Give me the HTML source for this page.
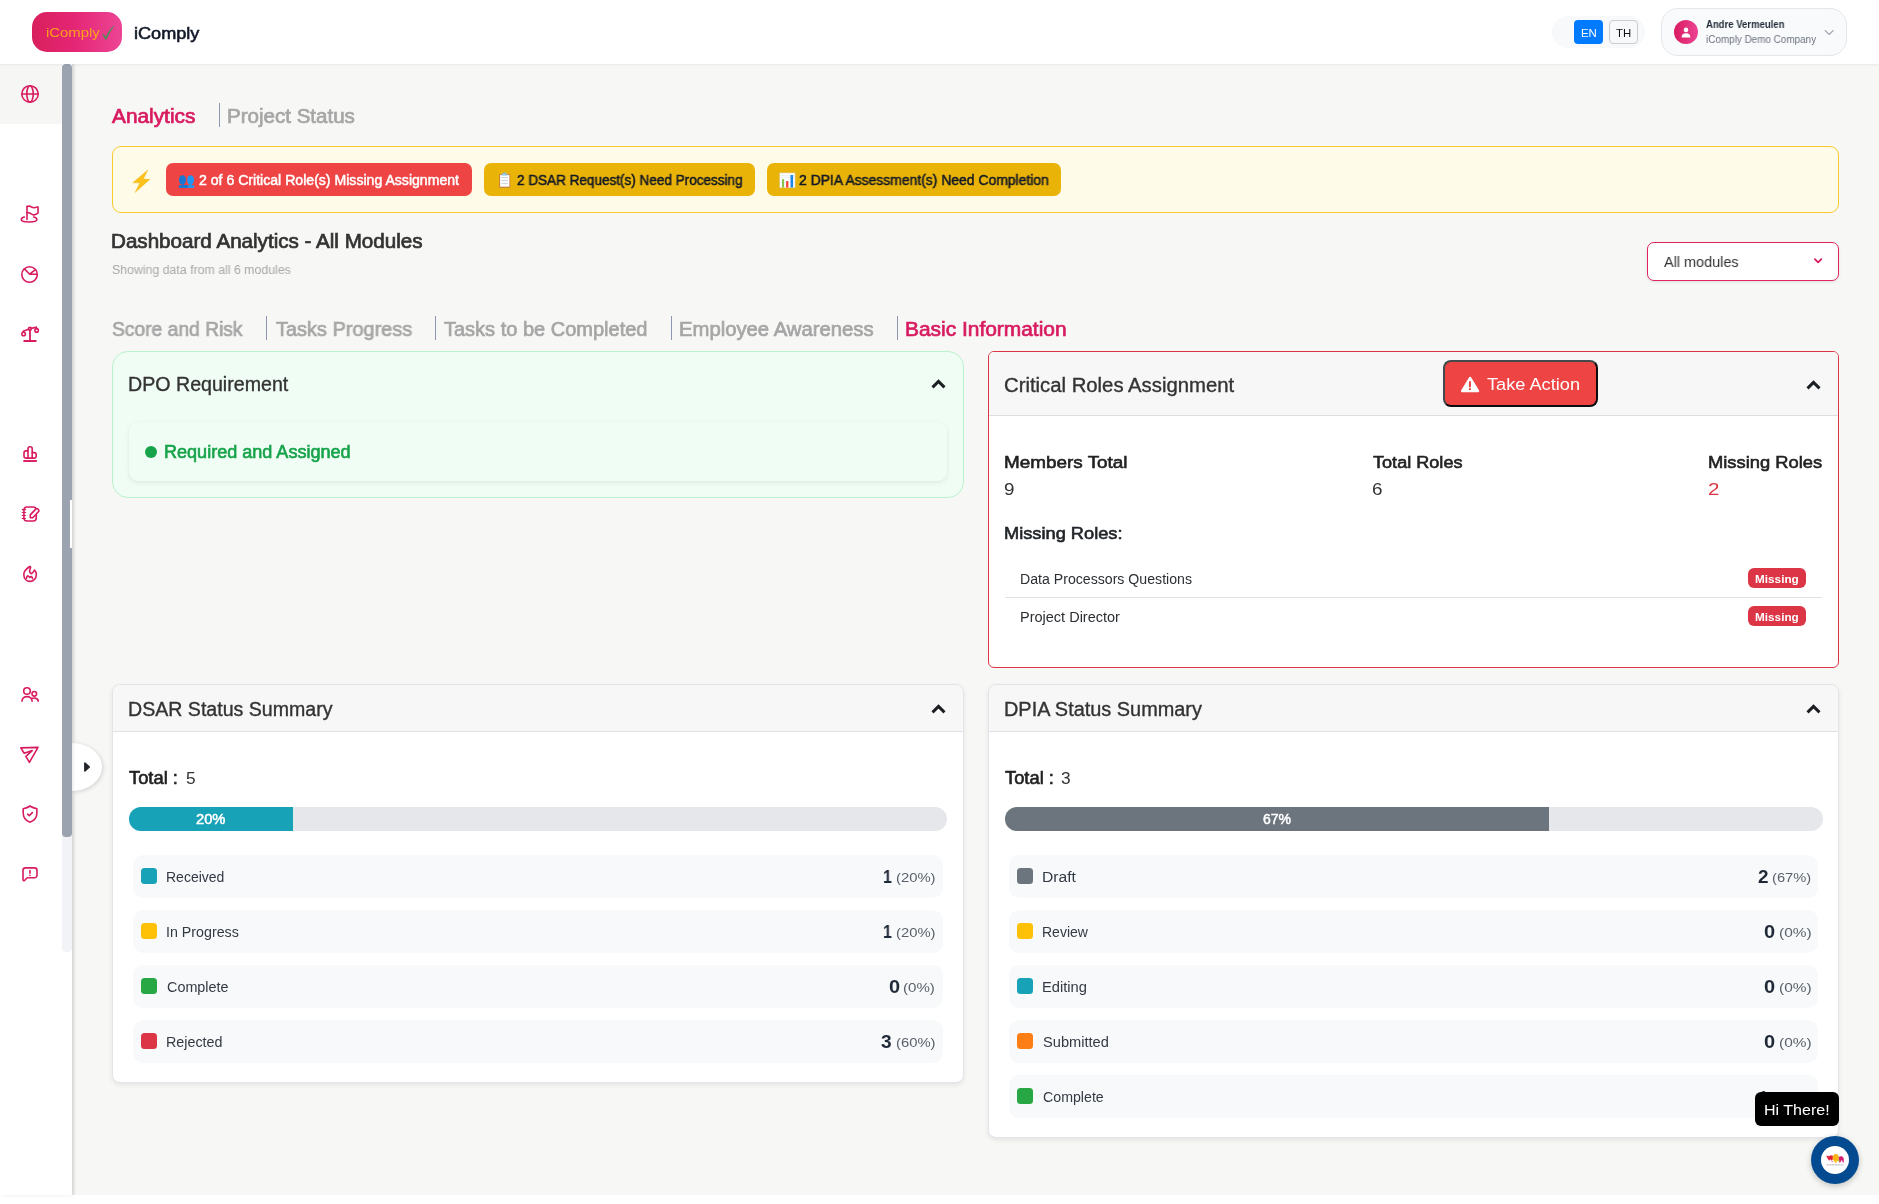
<!DOCTYPE html>
<html lang="en">
<head>
<meta charset="utf-8">
<title>iComply - Dashboard Analytics</title>
<style>
*{box-sizing:border-box;margin:0;padding:0}
html,body{width:1879px;height:1204px;overflow:hidden;background:#fff;font-family:"Liberation Sans",sans-serif;}
body{position:relative}
div,span,svg,header,aside,main,section,button,nav,a{position:absolute;display:block}
.t{white-space:pre;line-height:1;transform-origin:0 0;will-change:transform;}
header{left:0;top:0;width:1879px;height:64px;background:#fff;z-index:5;box-shadow:0 1px 2px rgba(0,0,0,.06)}
aside{left:0;top:64px;width:72px;height:1131px;background:#fff;z-index:4;box-shadow:1px 0 3px rgba(0,0,0,.10)}
main{left:72px;top:64px;width:1807px;height:1131px;background:#f7f7f5;z-index:1}
button{border:0;background:none;font-family:inherit}

</style>
</head>
<body>
<header>
<div class="logo" style="left:32px;top:12px;width:90px;height:40px;border-radius:15px;background:linear-gradient(90deg,#d9205c 0%,#e42574 45%,#ec4594 100%);"></div>
<span class="t" style="left:46.11px;top:26px;font-size:13px;color:#ffa31a;transform:scaleX(1.1438);">iComply</span>
<svg style="left:101px;top:24px;" width="15" height="17" viewBox="0 0 15 17"><path d="M1.4 10.4 C2.6 10.2 3.9 11.4 4.7 14.3 C6.3 9.6 9.4 4.8 13.1 2 C10 5.600 7.200 10.200 5.300 15 L4.100 15 C3.500 12.600 2.700 11.200 1.400 10.400 Z" fill="#25a04a" stroke="#25a04a" stroke-width=".5" stroke-linejoin="round"/></svg>
<span class="t" style="left:134.11px;top:26px;font-size:16px;color:#111827;transform:scaleX(1.1318);-webkit-text-stroke:0.56px #111827;">iComply</span>
<div style="left:1552px;top:16px;width:93px;height:32px;border-radius:16px;background:#f8f9fa;"></div>
<button style="left:1574px;top:20px;width:29px;height:24px;border-radius:4px;background:#007bff;"></button>
<span class="t" style="left:1580.56px;top:28px;font-size:11.3px;color:#fff;transform:scaleX(1.0105);">EN</span>
<button style="left:1609px;top:20px;width:29px;height:24px;border-radius:4px;background:#f8f9fa;border:1px solid #c9cdd2;"></button>
<span class="t" style="left:1616.44px;top:28px;font-size:11.3px;color:#111;transform:scaleX(1.0081);">TH</span>
<div style="left:1661px;top:8px;width:186px;height:48px;border-radius:17px;background:#f9fafb;border:1px solid #e3e6ea;"></div>
<div style="left:1674px;top:20px;width:24px;height:24px;border-radius:50%;background:linear-gradient(90deg,#d81b60,#ec4594);"></div>
<svg style="left:1681px;top:26.5px;" width="10" height="11" viewBox="0 0 10 11"><circle cx="5" cy="2.900" r="2.300" fill="#fff"/><path d="M.6 10.400 C.6 7.300 2.300 6.200 5 6.200 C7.700 6.200 9.400 7.300 9.400 10.400 Z" fill="#fff"/></svg>
<span class="t" style="left:1706.06px;top:20px;font-size:10px;color:#1f2937;font-weight:700;transform:scaleX(0.9534);">Andre Vermeulen</span>
<span class="t" style="left:1705.64px;top:35px;font-size:10px;color:#6b7280;transform:scaleX(0.9903);">iComply Demo Company</span>
<svg style="left:1823px;top:28px;" width="12" height="9" viewBox="0 0 12 9"><path d="M2.200 2.600 L6.200 6.400 L10.200 2.600" fill="none" stroke="#9ca3af" stroke-width="1.300" stroke-linecap="round" stroke-linejoin="round"/></svg>
</header>
<aside>
<div style="left:0px;top:0px;width:62px;height:60px;background:#f6f6f4;"></div>
<div style="left:62px;top:0px;width:10px;height:888px;background:#f1f3f6;border-radius:4px;"></div>
<div style="left:62px;top:0px;width:10px;height:773px;background:#9ba2b0;border-radius:4px;"></div>
<div style="left:70px;top:436px;width:2px;height:48px;background:#fff;"></div>
<svg style="left:14px;top:14px" width="32" height="32" viewBox="14 78 32 32"><g fill="none" stroke="#d81b60" stroke-width="1.600" stroke-linecap="round" stroke-linejoin="round"><circle cx="30" cy="93.950" r="8.200"/><ellipse cx="30" cy="93.950" rx="3.200" ry="8.200"/><path d="M21.800 93.950H38.200"/></g></svg>
<svg style="left:14px;top:134px" width="32" height="32" viewBox="14 198 32 32"><g fill="none" stroke="#d81b60" stroke-width="1.600" stroke-linecap="round" stroke-linejoin="round"><path d="M27 206.500V219.500"/><path d="M27 206.500C28.500 205.900 30 205.900 31.300 206.800C32.800 207.900 35 207.900 37.100 206.900C37.600 206.700 38.050 207 38.050 207.500V212.500C38.050 213.100 37.700 213.500 37.100 213.700C35.500 214.900 33.500 215.300 31.600 214.100C30.300 213.100 28.500 212.500 27 212.700"/><path d="M24.400 217.100C22.400 217.700 21.300 218.500 21.300 219.500C21.300 221.100 24.700 222 29 222C33.300 222 36.900 221 36.900 219.500C36.900 218.500 35.700 217.700 33.700 217.100"/></g></svg>
<svg style="left:14px;top:194px" width="32" height="32" viewBox="14 258 32 32"><g fill="none" stroke="#d81b60" stroke-width="1.600" stroke-linecap="round" stroke-linejoin="round"><circle cx="29.550" cy="274.500" r="7.750"/><path d="M24.400 268.900L29.700 274.200L35.400 269.600M29.700 274.200H37"/></g></svg>
<svg style="left:14px;top:254px" width="32" height="32" viewBox="14 318 32 32"><g fill="none" stroke="#d81b60" stroke-width="1.600" stroke-linecap="round" stroke-linejoin="round"><path d="M30 330.200V341M24.200 341H35.800" stroke-width="1.800"/><circle cx="29.950" cy="328.800" r="1.400"/><path d="M23.300 331.300L28.600 329.300M31.300 328.400L36.300 327.300"/><circle cx="23.600" cy="334" r="1.750"/><circle cx="36.600" cy="330.400" r="1.750"/><path d="M23.300 331.300L23.600 332.300M36.300 327.300L36.600 328.700"/></g></svg>
<svg style="left:14px;top:374px" width="32" height="32" viewBox="14 438 32 32"><g fill="none" stroke="#d81b60" stroke-width="1.600" stroke-linecap="round" stroke-linejoin="round"><path d="M28 458.100V448.800a2 2 0 0 1 2-2h.2a2 2 0 0 1 2 2V458.100"/><path d="M28 450.900H26a2 2 0 0 0-2 2V456.100a2 2 0 0 0 2 2H34.200a2 2 0 0 0 2-2V454.600a2 2 0 0 0-2-2H32.200"/><path d="M23.300 461H36.900" stroke-width="1.900" stroke-linecap="butt"/></g></svg>
<svg style="left:14px;top:434px" width="32" height="32" viewBox="14 498 32 32"><g fill="none" stroke="#d81b60" stroke-width="1.600" stroke-linecap="round" stroke-linejoin="round"><rect x="23.950" y="506.950" width="12.300" height="14.100" rx="3"/><path d="M22.200 509.600H25.600M22.200 512.500H25.600M22.200 515.500H25.600M22.200 518.500H25.600" stroke-width="1.100"/><path d="M30.300 514.900L36 508.900a1.200 1.200 0 0 1 1.700 0l.9.900a1.200 1.200 0 0 1 0 1.700L32.800 517.700H30.300Z" fill="#fff"/></g></svg>
<svg style="left:14px;top:494px" width="32" height="32" viewBox="14 558 32 32"><g fill="none" stroke="#d81b60" stroke-width="1.600" stroke-linecap="round" stroke-linejoin="round"><path d="M29.700 566.500C26 569 23.600 571.500 23.800 574.500C23.900 578.500 26.500 581.400 30 581.400C33.500 581.400 36.300 578.500 36.300 574.500C36.300 572.500 35.600 571 34.500 570C33.800 571.500 33 573.200 31.300 573.700C29 572.500 29.500 570 30.400 568.200C30.800 567.200 30.500 566.300 29.700 566.500Z"/><path d="M26.500 578.200C26.700 576.500 27.300 575.800 28.100 575.800C28.800 576.300 29.200 577 29.700 577.400C30.200 577 30.800 576.600 31.300 576.600C32.200 577 32.600 578 32.600 578.800"/></g></svg>
<svg style="left:14px;top:614px" width="32" height="32" viewBox="14 678 32 32"><g fill="none" stroke="#d81b60" stroke-width="1.600" stroke-linecap="round" stroke-linejoin="round"><circle cx="27" cy="691" r="3.300"/><circle cx="34.300" cy="693.800" r="2.300"/><path d="M22 701.200C22 698.400 24.200 696.600 27 696.600C29.800 696.600 32.100 698.400 32.100 701.200M31.600 698.600C32.600 698.200 33.800 698 35 698.100C37 698.300 38.200 699.600 38.200 701.200"/></g></svg>
<svg style="left:14px;top:674px" width="32" height="32" viewBox="14 738 32 32"><g fill="none" stroke="#d81b60" stroke-width="1.600" stroke-linecap="round" stroke-linejoin="round"><path d="M20.800 747.900L38 747.400L29.400 762.300L25.900 756.300L32.200 750.600L24.200 753.300Z"/></g></svg>
<svg style="left:14px;top:734px" width="32" height="32" viewBox="14 798 32 32"><g fill="none" stroke="#d81b60" stroke-width="1.600" stroke-linecap="round" stroke-linejoin="round"><path d="M29.950 806C28 807.500 25.500 808.300 23.200 808.700V813C23.200 818 26 820.800 29.950 822.200C34 820.800 36.900 818 36.900 813V808.700C34.500 808.300 32 807.500 29.950 806Z"/><path d="M27.600 814.200L29.300 815.700L32.300 812.600"/></g></svg>
<svg style="left:14px;top:794px" width="32" height="32" viewBox="14 858 32 32"><g fill="none" stroke="#d81b60" stroke-width="1.600" stroke-linecap="round" stroke-linejoin="round"><path d="M25.500 867.900H34.500a2.500 2.500 0 0 1 2.500 2.500V875.200a2.500 2.500 0 0 1-2.500 2.500H27.800C26.500 877.700 25.600 879.300 24.800 880.300C24.200 881 23 880.800 23 879.600V870.400a2.500 2.500 0 0 1 2.500-2.500Z"/><path d="M29.950 870.500V873.300M29.950 875.400v.010"/></g></svg>
</aside>
<main>
<div style="left:0px;top:0px;width:5px;height:1131px;background:linear-gradient(90deg,rgba(0,0,0,.07),rgba(0,0,0,0));"></div>
<button style="left:0px;top:679px;width:30px;height:48px;border-radius:0 30px 30px 0 / 0 24px 24px 0;background:#fff;box-shadow:1px 1px 4px rgba(0,0,0,.16);"></button>
<svg style="left:11px;top:697px;" width="8" height="12" viewBox="0 0 8 12"><path d="M1.900 2 L6.300 6 L1.900 10 Z" fill="#212529" stroke="#212529" stroke-width="1.600" stroke-linejoin="round"/></svg>
<span class="t" style="left:40.32px;top:42px;font-size:20px;color:#d81b60;transform:scaleX(1.0416);-webkit-text-stroke:0.7px #d81b60;">Analytics</span>
<div style="left:147px;top:39px;width:1px;height:24px;background:#8d96b3;"></div>
<span class="t" style="left:155.17px;top:42px;font-size:20px;color:#a6a6a6;transform:scaleX(1.0272);-webkit-text-stroke:0.7px #a6a6a6;">Project Status</span>
<div style="left:40px;top:82px;width:1727px;height:67px;border-radius:9px;background:#fefce8;border:1px solid #f7cb2d;"></div>
<svg style="left:59px;top:104px;" width="22" height="26" viewBox="0 0 22 26"><path d="M16.840 1.880 L1.730 14.860 L8.960 14.860 L4.070 24.440 L18.970 11.240 L12.370 11.030 Z" fill="#fcc21b" stroke="#eeb01a" stroke-width=".4" stroke-linejoin="round"/></svg>
<div style="left:94px;top:99px;width:306px;height:33px;border-radius:7px;background:#ef4444;"></div>
<svg style="left:106px;top:110px;" width="18" height="15" viewBox="0 0 18 15"><g fill="#1976d2"><ellipse cx="4.500" cy="5.900" rx="3.500" ry="4.700"/><path d="M3.300 9.500h2.400v1.600l3.300.5c.6.100 1 .5 1 1.100V14H.9v-1.300c0-.6.400-1 1-1.100l3.300-.5z"/><rect x=".9" y="11.200" width="9.100" height="2.800" rx=".8"/></g><g fill="#2196f3"><ellipse cx="12.600" cy="5.900" rx="3.500" ry="4.700"/><rect x="11.400" y="9.500" width="2.400" height="2.500"/><rect x="9.900" y="11.200" width="6.400" height="2.800" rx=".8"/></g></svg>
<span class="t" style="left:127.34px;top:109px;font-size:14px;color:#fff;transform:scaleX(1.0066);-webkit-text-stroke:0.49px #fff;">2 of 6 Critical Role(s) Missing Assignment</span>
<div style="left:412px;top:99px;width:271px;height:33px;border-radius:7px;background:#eab308;"></div>
<svg style="left:424px;top:106px" width="18" height="20" viewBox="496 170 18 20"><rect x="499.200" y="174.100" width="11" height="13.600" rx=".8" fill="#c17b3f"/><rect x="500.100" y="174.900" width="9.300" height="11.800" fill="#fdfdfd"/><path d="M504.600 171.900l1.300 1.300h1.100l.7 2.400h-6.200l.7-2.400h1.100z" fill="#8fc1da"/><path d="M501.400 177.600h6.400M501.400 180.500h6.400M501.400 183.400h6.400" stroke="#c3ccd6" stroke-width=".9"/></svg>
<span class="t" style="left:445.46px;top:109px;font-size:14px;color:#111827;transform:scaleX(0.9663);-webkit-text-stroke:0.49px #111827;">2 DSAR Request(s) Need Processing</span>
<div style="left:695px;top:99px;width:294px;height:33px;border-radius:7px;background:#eab308;"></div>
<svg style="left:705px;top:106px" width="20" height="20" viewBox="777 170 20 20"><rect x="779.700" y="172.900" width="15.400" height="14.900" fill="#fcfdff" stroke="#d9c48a" stroke-width=".5"/><path d="M780 175.600h14.800M780 177.400h14.800M780 182.500h14.800" stroke="#dfe4ee" stroke-width=".6"/><rect x="782" y="179" width="2.100" height="8.500" rx=".6" fill="#8bc34a"/><rect x="786.100" y="181" width="2.300" height="6.500" rx=".6" fill="#f44336"/><rect x="790.500" y="175" width="2.600" height="12.500" rx=".6" fill="#1e88e5"/></svg>
<span class="t" style="left:727.44px;top:109px;font-size:14px;color:#111827;transform:scaleX(0.9939);-webkit-text-stroke:0.49px #111827;">2 DPIA Assessment(s) Need Completion</span>
<span class="t" style="left:39.17px;top:167px;font-size:20px;color:#333;transform:scaleX(1.0302);-webkit-text-stroke:0.7px #333;">Dashboard Analytics - All Modules</span>
<span class="t" style="left:39.94px;top:200px;font-size:12.5px;color:#a9a9a9;transform:scaleX(0.9859);">Showing data from all 6 modules</span>
<div style="left:1575px;top:178px;width:192px;height:39px;border-radius:7px;background:#fff;border:1px solid #e0245e;box-shadow:0 1px 3px rgba(0,0,0,.10);"></div>
<span class="t" style="left:1592.37px;top:190px;font-size:15px;color:#333;transform:scaleX(0.9626);">All modules</span>
<svg style="left:1740px;top:192px;" width="12" height="10" viewBox="0 0 12 10"><path d="M2.900 3.100 L6.100 6.300 L9.300 3.100" fill="none" stroke="#d81b60" stroke-width="1.800" stroke-linecap="round" stroke-linejoin="round"/></svg>
<span class="t" style="left:39.96px;top:255px;font-size:20px;color:#a6a6a6;transform:scaleX(0.9627);-webkit-text-stroke:0.7px #a6a6a6;">Score and Risk</span>
<div style="left:194px;top:252px;width:1px;height:24px;background:#8d96b3;"></div>
<span class="t" style="left:203.50px;top:255px;font-size:20px;color:#a6a6a6;transform:scaleX(0.9960);-webkit-text-stroke:0.7px #a6a6a6;">Tasks Progress</span>
<div style="left:363px;top:252px;width:1px;height:24px;background:#8d96b3;"></div>
<span class="t" style="left:372.00px;top:255px;font-size:20px;color:#a6a6a6;-webkit-text-stroke:0.7px #a6a6a6;">Tasks to be Completed</span>
<div style="left:599px;top:252px;width:1px;height:24px;background:#8d96b3;"></div>
<span class="t" style="left:607.09px;top:255px;font-size:20px;color:#a6a6a6;transform:scaleX(1.0136);-webkit-text-stroke:0.7px #a6a6a6;">Employee Awareness</span>
<div style="left:825px;top:252px;width:1px;height:24px;background:#8d96b3;"></div>
<span class="t" style="left:833.15px;top:255px;font-size:20px;color:#d81b60;transform:scaleX(1.0455);-webkit-text-stroke:0.7px #d81b60;">Basic Information</span>
<div style="left:40px;top:287px;width:852px;height:147px;border-radius:16px;background:#f0fdf4;border:1px solid #b9f3cd;"></div>
<span class="t" style="left:56.07px;top:311px;font-size:19.5px;color:#333;transform:scaleX(1.0061);-webkit-text-stroke:0.35px #333;">DPO Requirement</span>
<svg style="left:859px;top:315px;" width="15" height="12" viewBox="0 0 15 12"><path d="M1.500 8.400 L7.500 2.400 L13.500 8.400" fill="none" stroke="#1b1f23" stroke-width="2.900" stroke-linecap="butt" stroke-linejoin="miter"/></svg>
<div style="left:57px;top:358px;width:818px;height:59px;border-radius:9px;background:#f0fdf4;box-shadow:0 2px 5px rgba(0,0,0,.07),0 0 2px rgba(0,0,0,.04);"></div>
<div style="left:73px;top:382.2px;width:12.2px;height:12.2px;border-radius:50%;background:#16a34a;"></div>
<span class="t" style="left:92.13px;top:380px;font-size:17.5px;color:#16a34a;transform:scaleX(1.0312);-webkit-text-stroke:0.61px #16a34a;">Required and Assigned</span>
<div style="left:916px;top:287px;width:851px;height:317px;border-radius:6px;background:#fff;border:1px solid #dc3545;overflow:hidden;"><div style="left:0;top:0;width:849px;height:64px;background:#f7f7f7;border-bottom:1px solid #dedede"></div></div>
<span class="t" style="left:932.25px;top:312px;font-size:19.5px;color:#333;transform:scaleX(1.0408);-webkit-text-stroke:0.35px #333;">Critical Roles Assignment</span>
<button style="left:1371px;top:296px;width:155px;height:47px;border-radius:8px;background:#ef4444;border:2px solid;border-color:#44494b #0c0c0c #0c0c0c #44494b;"></button>
<svg style="left:1388px;top:311.5px;" width="20" height="18" viewBox="0 0 20 18"><path d="M10.100 2.200 L17.900 15 H2.300 Z" fill="#fff" stroke="#fff" stroke-width="2.600" stroke-linejoin="round"/><path d="M9.950 6.100v4.500" stroke="#ef4444" stroke-width="2" stroke-linecap="round"/><circle cx="9.950" cy="13.200" r="1.100" fill="#ef4444"/></svg>
<span class="t" style="left:1415.29px;top:313px;font-size:16.8px;color:#fff;transform:scaleX(1.0835);">Take Action</span>
<svg style="left:1734.3px;top:315.8px;" width="15" height="12" viewBox="0 0 15 12"><path d="M1.500 8.400 L7.500 2.400 L13.500 8.400" fill="none" stroke="#1b1f23" stroke-width="2.900" stroke-linecap="butt" stroke-linejoin="miter"/></svg>
<span class="t" style="left:931.88px;top:390px;font-size:17.3px;color:#222;transform:scaleX(1.0932);-webkit-text-stroke:0.61px #222;">Members Total</span>
<span class="t" style="left:932.22px;top:418px;font-size:16px;color:#333;transform:scaleX(1.1759);">9</span>
<span class="t" style="left:1301.21px;top:390px;font-size:17.3px;color:#222;transform:scaleX(1.0470);-webkit-text-stroke:0.61px #222;">Total Roles</span>
<span class="t" style="left:1300.34px;top:418px;font-size:16px;color:#333;transform:scaleX(1.1772);">6</span>
<span class="t" style="left:1635.92px;top:390px;font-size:17.3px;color:#222;transform:scaleX(1.0610);-webkit-text-stroke:0.61px #222;">Missing Roles</span>
<span class="t" style="left:1636.06px;top:418px;font-size:16px;color:#dc3545;transform:scaleX(1.2882);">2</span>
<span class="t" style="left:931.92px;top:461px;font-size:17.3px;color:#212529;transform:scaleX(1.0547);-webkit-text-stroke:0.61px #212529;">Missing Roles:</span>
<span class="t" style="left:947.74px;top:508px;font-size:14px;color:#2b2f33;transform:scaleX(1.0092);">Data Processors Questions</span>
<div style="left:1676px;top:504px;width:58px;height:20px;border-radius:6px;background:#dc3545;"></div>
<span class="t" style="left:1683.21px;top:510px;font-size:11px;color:#fff;font-weight:700;transform:scaleX(1.0689);">Missing</span>
<div style="left:933px;top:533px;width:817px;height:1px;background:#dee2e6;"></div>
<span class="t" style="left:947.71px;top:546px;font-size:14px;color:#2b2f33;transform:scaleX(1.0359);">Project Director</span>
<div style="left:1676px;top:542px;width:58px;height:20px;border-radius:6px;background:#dc3545;"></div>
<span class="t" style="left:1683.21px;top:548px;font-size:11px;color:#fff;font-weight:700;transform:scaleX(1.0689);">Missing</span>
<div style="left:40px;top:620px;width:852px;height:399px;border-radius:8px;background:#fff;border:1px solid #e2e4e8;box-shadow:0 2px 5px rgba(0,0,0,.08);overflow:hidden;"><div style="left:0;top:0;width:850px;height:47px;background:#f7f7f7;border-bottom:1px solid #dfe1e5"></div></div>
<span class="t" style="left:56.07px;top:636px;font-size:19.5px;color:#333;transform:scaleX(1.0042);-webkit-text-stroke:0.35px #333;">DSAR Status Summary</span>
<svg style="left:858.7px;top:639.8px;" width="15" height="12" viewBox="0 0 15 12"><path d="M1.500 8.400 L7.500 2.400 L13.500 8.400" fill="none" stroke="#1b1f23" stroke-width="2.900" stroke-linecap="butt" stroke-linejoin="miter"/></svg>
<span class="t" style="left:57.21px;top:706px;font-size:17.5px;color:#222;transform:scaleX(1.0481);-webkit-text-stroke:0.61px #222;">Total :</span>
<span class="t" style="left:113.91px;top:706px;font-size:16.5px;color:#333;transform:scaleX(1.0467);">5</span>
<div style="left:57px;top:743px;width:818px;height:24px;border-radius:12px;background:#e5e7eb;overflow:hidden;"><div style="left:0;top:0;width:164px;height:24px;background:#17a2b8"></div></div>
<span class="t" style="left:124.12px;top:748px;font-size:14px;color:#fff;transform:scaleX(1.0506);-webkit-text-stroke:0.49px #fff;">20%</span>
<div style="left:61px;top:791.0px;width:810px;height:43px;border-radius:10px;background:#f8f9fa;"></div>
<div style="left:69.2px;top:804.1px;width:15.8px;height:15.8px;border-radius:3.500px;background:#17a2b8;"></div>
<span class="t" style="left:94.16px;top:806px;font-size:14px;color:#333a44;transform:scaleX(0.9925);">Received</span>
<span class="t" style="left:811.20px;top:804px;font-size:18px;color:#1f2937;font-weight:700;transform:scaleX(0.8830);">1</span>
<span class="t" style="left:823.58px;top:807px;font-size:13.4px;color:#59616b;transform:scaleX(1.1065);">(20%)</span>
<div style="left:61px;top:846.0px;width:810px;height:43px;border-radius:10px;background:#f8f9fa;"></div>
<div style="left:69.2px;top:859.1px;width:15.8px;height:15.8px;border-radius:3.500px;background:#ffc107;"></div>
<span class="t" style="left:93.99px;top:861px;font-size:14px;color:#333a44;transform:scaleX(1.0173);">In Progress</span>
<span class="t" style="left:811.20px;top:859px;font-size:18px;color:#1f2937;font-weight:700;transform:scaleX(0.8830);">1</span>
<span class="t" style="left:823.58px;top:862px;font-size:13.4px;color:#59616b;transform:scaleX(1.1065);">(20%)</span>
<div style="left:61px;top:901.1px;width:810px;height:43px;border-radius:10px;background:#f8f9fa;"></div>
<div style="left:69.2px;top:914.2px;width:15.8px;height:15.8px;border-radius:3.500px;background:#28a745;"></div>
<span class="t" style="left:94.57px;top:916px;font-size:14px;color:#333a44;transform:scaleX(1.0275);">Complete</span>
<span class="t" style="left:816.71px;top:914px;font-size:18px;color:#1f2937;font-weight:700;transform:scaleX(1.1091);">0</span>
<span class="t" style="left:831.26px;top:917px;font-size:13.4px;color:#59616b;transform:scaleX(1.1270);">(0%)</span>
<div style="left:61px;top:956.1px;width:810px;height:43px;border-radius:10px;background:#f8f9fa;"></div>
<div style="left:69.2px;top:969.2px;width:15.8px;height:15.8px;border-radius:3.500px;background:#dc3545;"></div>
<span class="t" style="left:94.13px;top:971px;font-size:14px;color:#333a44;transform:scaleX(1.0223);">Rejected</span>
<span class="t" style="left:809.36px;top:969px;font-size:18px;color:#1f2937;font-weight:700;transform:scaleX(1.0612);">3</span>
<span class="t" style="left:823.58px;top:972px;font-size:13.4px;color:#59616b;transform:scaleX(1.1065);">(60%)</span>
<div style="left:916px;top:620px;width:851px;height:454px;border-radius:8px;background:#fff;border:1px solid #e2e4e8;box-shadow:0 2px 5px rgba(0,0,0,.08);overflow:hidden;"><div style="left:0;top:0;width:849px;height:47px;background:#f7f7f7;border-bottom:1px solid #dfe1e5"></div></div>
<span class="t" style="left:932.05px;top:636px;font-size:19.5px;color:#333;transform:scaleX(1.0203);-webkit-text-stroke:0.35px #333;">DPIA Status Summary</span>
<svg style="left:1734px;top:639.8px;" width="15" height="12" viewBox="0 0 15 12"><path d="M1.500 8.400 L7.500 2.400 L13.500 8.400" fill="none" stroke="#1b1f23" stroke-width="2.900" stroke-linecap="butt" stroke-linejoin="miter"/></svg>
<span class="t" style="left:933.21px;top:706px;font-size:17.5px;color:#222;transform:scaleX(1.0481);-webkit-text-stroke:0.61px #222;">Total :</span>
<span class="t" style="left:988.94px;top:706px;font-size:16.5px;color:#333;transform:scaleX(1.0467);">3</span>
<div style="left:933px;top:743px;width:818px;height:24px;border-radius:12px;background:#e5e7eb;overflow:hidden;"><div style="left:0;top:0;width:544px;height:24px;background:#6c757d"></div></div>
<span class="t" style="left:1190.73px;top:748px;font-size:14px;color:#fff;-webkit-text-stroke:0.49px #fff;">67%</span>
<div style="left:937px;top:791.0px;width:809px;height:43px;border-radius:10px;background:#f8f9fa;"></div>
<div style="left:945.2px;top:804.1px;width:15.8px;height:15.8px;border-radius:3.500px;background:#6c757d;"></div>
<span class="t" style="left:970.02px;top:806px;font-size:14px;color:#333a44;transform:scaleX(1.1171);">Draft</span>
<span class="t" style="left:1686.25px;top:804px;font-size:18px;color:#1f2937;font-weight:700;transform:scaleX(1.0495);">2</span>
<span class="t" style="left:1699.89px;top:807px;font-size:13.4px;color:#59616b;transform:scaleX(1.0977);">(67%)</span>
<div style="left:937px;top:846.0px;width:809px;height:43px;border-radius:10px;background:#f8f9fa;"></div>
<div style="left:945.2px;top:859.1px;width:15.8px;height:15.8px;border-radius:3.500px;background:#ffc107;"></div>
<span class="t" style="left:970.15px;top:861px;font-size:14px;color:#333a44;">Review</span>
<span class="t" style="left:1692.41px;top:859px;font-size:18px;color:#1f2937;font-weight:700;transform:scaleX(1.1091);">0</span>
<span class="t" style="left:1706.54px;top:862px;font-size:13.4px;color:#59616b;transform:scaleX(1.1533);">(0%)</span>
<div style="left:937px;top:901.1px;width:809px;height:43px;border-radius:10px;background:#f8f9fa;"></div>
<div style="left:945.2px;top:914.2px;width:15.8px;height:15.8px;border-radius:3.500px;background:#17a2b8;"></div>
<span class="t" style="left:970.09px;top:916px;font-size:14px;color:#333a44;transform:scaleX(1.0500);">Editing</span>
<span class="t" style="left:1692.41px;top:914px;font-size:18px;color:#1f2937;font-weight:700;transform:scaleX(1.1091);">0</span>
<span class="t" style="left:1706.54px;top:917px;font-size:13.4px;color:#59616b;transform:scaleX(1.1533);">(0%)</span>
<div style="left:937px;top:956.1px;width:809px;height:43px;border-radius:10px;background:#f8f9fa;"></div>
<div style="left:945.2px;top:969.2px;width:15.8px;height:15.8px;border-radius:3.500px;background:#fd7e14;"></div>
<span class="t" style="left:970.64px;top:971px;font-size:14px;color:#333a44;transform:scaleX(1.0454);">Submitted</span>
<span class="t" style="left:1692.41px;top:969px;font-size:18px;color:#1f2937;font-weight:700;transform:scaleX(1.1091);">0</span>
<span class="t" style="left:1706.54px;top:972px;font-size:13.4px;color:#59616b;transform:scaleX(1.1533);">(0%)</span>
<div style="left:937px;top:1011.2px;width:809px;height:43px;border-radius:10px;background:#f8f9fa;"></div>
<div style="left:945.2px;top:1024.3px;width:15.8px;height:15.8px;border-radius:3.500px;background:#28a745;"></div>
<span class="t" style="left:970.58px;top:1026px;font-size:14px;color:#333a44;transform:scaleX(1.0138);">Complete</span>
<span class="t" style="left:1687.00px;top:1025px;font-size:18px;color:#1f2937;font-weight:700;transform:scaleX(0.8830);">1</span>
<span class="t" style="left:1699.89px;top:1027px;font-size:13.4px;color:#59616b;transform:scaleX(1.0977);">(33%)</span>
<div style="left:1683px;top:1028px;width:84px;height:34px;border-radius:6px;background:#000;z-index:3;"></div>
<span class="t" style="left:1692.18px;top:1038px;font-size:15px;color:#fff;transform:scaleX(1.0692);z-index:4;">Hi There!</span>
<div style="left:1739px;top:1072.2px;width:48px;height:48px;border-radius:50%;background:#034a91;box-shadow:0 2px 6px rgba(0,0,0,.22);z-index:3;"></div>
<div style="left:1748.9px;top:1081.9px;width:28.2px;height:28.2px;border-radius:50%;background:#fff;z-index:3;"></div>
<svg style="left:1752px;top:1088px;z-index:3" width="22" height="16" viewBox="1824 1152 22 16"><path d="M1826 1155.300l1.200 1 .8-.9 1 1 1.200-1.100 2.700.5v3.400l-1.400 1.600-.9-1.500-1.500 1.400-1.600-2.500z" fill="#e0203a"/><ellipse cx="1835.800" cy="1157.700" rx="3.100" ry="3.800" fill="#f9b216"/><rect x="1834.400" y="1160" width="2.300" height="2.900" rx=".8" fill="#fbc62a"/><path d="M1838.700 1157.200c1.400-1.400 4-1 4.900.9l.3 4.300h-1.200l-.4-1.800h-1.300l-.5 1.800h-1.300z" fill="#d81b72"/><path d="M1838.400 1158.900l1.700 2.400h-2.500z" fill="#9ccc3c"/><path d="M1831.700 1160.900h1v1.200h-1z" fill="#e84aa0"/><path d="M1826.400 1164.900h17.500" stroke="#a9a9a9" stroke-width=".9" stroke-dasharray="2.300 .5"/></svg>
</main>
</body>
</html>
